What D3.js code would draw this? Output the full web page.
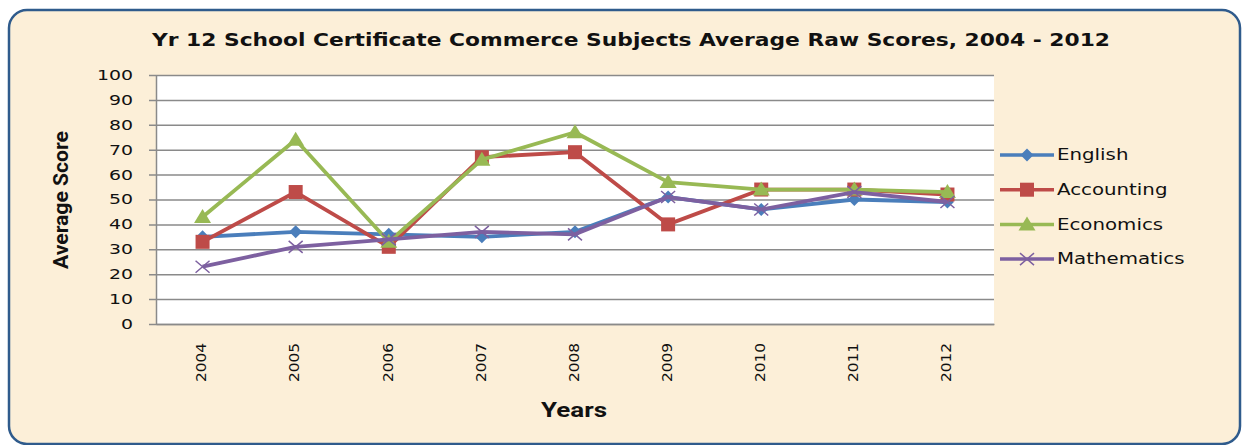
<!DOCTYPE html>
<html>
<head>
<meta charset="utf-8">
<script src="https://cdn.jsdelivr.net/npm/d3@7"></script>
<style>
  html, body { margin: 0; padding: 0; background: #fff; }
  svg { display: block; }
</style>
</head>
<body>
<svg id="chart" width="1247" height="445"></svg>
<script>
const years = ["2004","2005","2006","2007","2008","2009","2010","2011","2012"];
const english     = [35, 37, 36, 35, 37, 51, 46, 50, 49];
const accounting  = [33, 53, 31, 67, 69, 40, 54, 54, 52];
const economics   = [43, 74, 33, 66, 77, 57, 54, 54, 53];
const mathematics = [23, 31, 34, 37, 36, 51, 46, 53, 49];
const yTicks = [0, 10, 20, 30, 40, 50, 60, 70, 80, 90, 100];

const series = [
  { name: "English",     values: english,     color: "#4a7ebb", marker: "diamond" },
  { name: "Accounting",  values: accounting,  color: "#be4b48", marker: "square" },
  { name: "Economics",   values: economics,   color: "#98b954", marker: "triangle" },
  { name: "Mathematics", values: mathematics, color: "#7d60a0", marker: "cross" }
];

const svg = d3.select("#chart");
const width = 1247, height = 445;
const m = { top: 75, right: 253, bottom: 121, left: 156 };
const font = "DejaVu Sans, Verdana, sans-serif";

// parchment panel
svg.append("rect")
  .attr("x", 9).attr("y", 10)
  .attr("width", 1231).attr("height", 434)
  .attr("rx", 18)
  .attr("fill", "#fcefd8")
  .attr("stroke", "#2f5b8c")
  .attr("stroke-width", 2.5);

const x = d3.scaleBand()
  .domain(years)
  .range([m.left, width - m.right]);

const y = d3.scaleLinear()
  .domain([0, 100])
  .range([height - m.bottom, m.top]);

// plot area
svg.append("rect")
  .attr("x", m.left).attr("y", m.top)
  .attr("width", width - m.left - m.right)
  .attr("height", height - m.top - m.bottom)
  .attr("fill", "#fff");

// gridlines + y ticks
const yAxis = svg.append("g")
  .attr("transform", `translate(${m.left},0)`)
  .call(d3.axisLeft(y).tickValues(yTicks).tickSizeInner(-(width - m.left - m.right)).tickSizeOuter(0));
yAxis.select(".domain").attr("stroke", "#8a8a8a").attr("stroke-width", 1.5);
yAxis.selectAll(".tick line")
  .attr("stroke", "#8a8a8a")
  .attr("stroke-width", 1.5)
  .attr("x1", -7);
yAxis.selectAll("text")
  .attr("font-family", font)
  .attr("font-size", "14px")
  .attr("fill", "#111")
  .attr("text-anchor", "end")
  .attr("x", 0)
  .attr("transform", "translate(-23,0) scale(1.35,1)");

// x axis labels
const xAxis = svg.append("g")
  .attr("transform", `translate(0,${height - m.bottom})`)
  .call(d3.axisBottom(x).tickSize(0).tickPadding(0));
xAxis.select(".domain").attr("stroke", "#8a8a8a").attr("stroke-width", 1.5);
xAxis.selectAll("text")
  .attr("font-family", font)
  .attr("font-size", "13.5px")
  .attr("fill", "#111")
  .attr("text-anchor", "end")
  .attr("transform", "rotate(-90)")
  .attr("x", -19)
  .attr("y", -1)
  .attr("dy", "0.35em")
  .attr("textLength", 39)
  .attr("lengthAdjust", "spacingAndGlyphs");

const cx = d => x(d) + x.bandwidth() / 2;

function drawMarker(g, type, color){
  if(type === "diamond"){
    g.append("path").attr("d", "M0,-6.5L6.5,0L0,6.5L-6.5,0Z").attr("fill", color);
  } else if(type === "square"){
    g.append("rect").attr("x", -7).attr("y", -7).attr("width", 14).attr("height", 14).attr("fill", color);
  } else if(type === "triangle"){
    g.append("path").attr("d", "M0,-8L8.5,6L-8.5,6Z").attr("fill", color);
  } else {
    g.append("path").attr("d", "M-7,-6L7,6M-7,6L7,-6").attr("stroke", color).attr("stroke-width", 1.5).attr("fill", "none");
  }
}

const line = d3.line()
  .x((d, i) => cx(years[i]))
  .y(d => y(d));

series.forEach(s => {
  svg.append("path")
    .datum(s.values)
    .attr("fill", "none")
    .attr("stroke", s.color)
    .attr("stroke-width", 3.8)
    .attr("stroke-linejoin", "round")
    .attr("d", line);

  s.values.forEach((v, i) => {
    const g = svg.append("g").attr("transform", `translate(${cx(years[i])},${y(v)})`);
    drawMarker(g, s.marker, s.color);
  });
});

// legend
const legend = svg.append("g").attr("transform", "translate(1000,155)");
series.forEach((s, i) => {
  const g = legend.append("g").attr("transform", `translate(0,${i * 34.7})`);
  g.append("line")
    .attr("x1", 0).attr("x2", 54)
    .attr("stroke", s.color).attr("stroke-width", 3.5);
  const mg = g.append("g").attr("transform", "translate(27,0)");
  drawMarker(mg, s.marker, s.color);
  g.append("text")
    .attr("x", 0).attr("y", 0).attr("dy", "0.35em")
    .attr("transform", "translate(57,0) scale(1.32,1)")
    .attr("font-family", font)
    .attr("font-size", "15px")
    .attr("fill", "#111")
    .text(s.name);
});

// titles
svg.append("text")
  .attr("x", 631).attr("y", 46)
  .attr("text-anchor", "middle")
  .attr("font-family", font)
  .attr("font-weight", "bold")
  .attr("font-size", "18px")
  .attr("fill", "#111")
  .attr("textLength", 958)
  .attr("lengthAdjust", "spacingAndGlyphs")
  .text("Yr 12 School Certificate Commerce Subjects Average Raw Scores, 2004 - 2012");

svg.append("text")
  .attr("transform", "translate(68,200) rotate(-90)")
  .attr("text-anchor", "middle")
  .attr("font-family", "Roboto, sans-serif")
  .attr("font-weight", "bold")
  .attr("font-size", "20px")
  .attr("fill", "#111")
  .attr("textLength", 138)
  .attr("lengthAdjust", "spacingAndGlyphs")
  .text("Average Score");

svg.append("text")
  .attr("x", 574).attr("y", 417)
  .attr("text-anchor", "middle")
  .attr("font-family", "Roboto, sans-serif")
  .attr("font-weight", "bold")
  .attr("font-size", "21px")
  .attr("fill", "#111")
  .attr("textLength", 66)
  .attr("lengthAdjust", "spacingAndGlyphs")
  .text("Years");
</script>
</body>
</html>
